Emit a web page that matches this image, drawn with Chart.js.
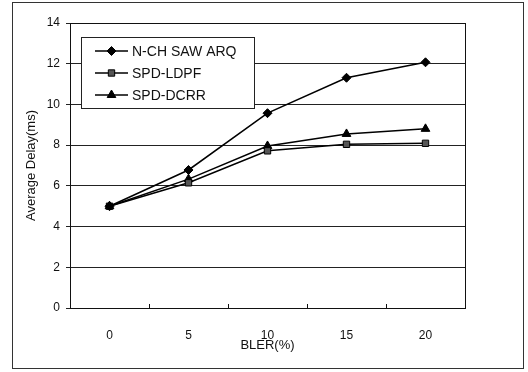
<!DOCTYPE html>
<html>
<head>
<meta charset="utf-8">
<script src="https://cdn.jsdelivr.net/npm/chart.js@4.4.1/dist/chart.umd.min.js"></script>
<style>
  html, body { margin: 0; padding: 0; background: #fff; }
  #wrap { width: 528px; height: 372px; position: relative; }
</style>
</head>
<body>
<div id="wrap"><canvas id="delayChart" width="528" height="372"></canvas></div>
<script>
// Data
const bler = ["0", "5", "10", "15", "20"];
const nchSawArq = [5.0, 6.78, 9.57, 11.31, 12.07];
const spdLdpf = [5.0, 6.15, 7.72, 8.04, 8.09];
const spdDcrr = [5.0, 6.33, 7.96, 8.55, 8.8];
const yTicks = [0, 2, 4, 6, 8, 10, 12, 14];

const FONT = "'Liberation Sans', Arial, Helvetica, sans-serif";

// Outer frame of the figure, plot frame and the small x ticks
const framePlugin = {
  id: "frame",
  beforeDraw(chart) {
    const ctx = chart.ctx;
    ctx.save();
    ctx.fillStyle = "#fff";
    ctx.fillRect(0, 0, chart.width, chart.height);
    ctx.strokeStyle = "#333";
    ctx.lineWidth = 1;
    ctx.strokeRect(12.5, 2.5, 511, 366);
    ctx.restore();
  },
  afterDatasetsDraw(chart) {
    const a = chart.chartArea;
    const ctx = chart.ctx;
    const xs = chart.scales.x;
    ctx.save();
    ctx.strokeStyle = "#111";
    ctx.lineWidth = 1;
    ctx.strokeRect(Math.round(a.left) + 0.5, Math.round(a.top) + 0.5,
      Math.round(a.right - a.left), Math.round(a.bottom - a.top));
    // tick marks between categories, pointing into the plot
    ctx.beginPath();
    for (let i = 1; i < bler.length; i++) {
      const x = Math.round((xs.getPixelForValue(i - 1) + xs.getPixelForValue(i)) / 2) + 0.5;
      ctx.moveTo(x, a.bottom);
      ctx.lineTo(x, a.bottom - 4);
    }
    ctx.stroke();
    ctx.restore();
  },
};

// Legend box drawn inside the plot area
const boxLegendPlugin = {
  id: "boxLegend",
  afterDraw(chart) {
    const ctx = chart.ctx;
    const x0 = 81, y0 = 37, w = 173, h = 71;
    ctx.save();
    ctx.fillStyle = "#fff";
    ctx.fillRect(x0, y0, w, h);
    ctx.strokeStyle = "#222";
    ctx.lineWidth = 1;
    ctx.strokeRect(x0 + 0.5, y0 + 0.5, w, h);
    ctx.font = "14px " + FONT;
    ctx.textBaseline = "middle";
    chart.data.datasets.forEach((ds, i) => {
      const y = 51 + i * 22;
      ctx.strokeStyle = "#000";
      ctx.lineWidth = 1.5;
      ctx.beginPath();
      ctx.moveTo(95, y);
      ctx.lineTo(128, y);
      ctx.stroke();
      ctx.fillStyle = ds.pointBackgroundColor;
      ctx.lineWidth = 1;
      Chart.helpers.drawPoint(ctx, {
        pointStyle: ds.pointStyle,
        radius: ds.pointRadius,
        rotation: 0,
        borderWidth: 1,
      }, 111.5, y);
      ctx.fillStyle = "#111";
      ctx.fillText(ds.label, 132, y + 1);
    });
    ctx.restore();
  },
};

function series(label, data, style, radius, fill) {
  return {
    label: label,
    data: data,
    borderColor: "#000",
    borderWidth: 1.5,
    backgroundColor: fill,
    pointStyle: style,
    pointRadius: radius,
    pointBorderColor: "#000",
    pointBackgroundColor: fill,
    pointBorderWidth: 1,
    tension: 0,
  };
}

new Chart(document.getElementById("delayChart"), {
  type: "line",
  data: {
    labels: bler,
    datasets: [
      series("N-CH SAW ARQ", nchSawArq, "rectRot", 4.5, "#000"),
      series("SPD-LDPF", spdLdpf, "rect", 4.5, "#555"),
      series("SPD-DCRR", spdDcrr, "triangle", 5, "#000"),
    ],
  },
  options: {
    responsive: false,
    animation: false,
    events: [],
    layout: { padding: { left: 20, right: 63, top: 23, bottom: 0 } },
    plugins: { legend: { display: false }, tooltip: { enabled: false } },
    scales: {
      x: {
        type: "category",
        offset: true,
        afterFit: (scale) => { scale.height = 64; },
        grid: { display: false },
        border: { display: true, color: "#111", width: 1 },
        ticks: { color: "#111", font: { family: FONT, size: 12 }, padding: 12 },
        title: {
          display: true,
          text: "BLER(%)",
          color: "#111",
          font: { family: FONT, size: 13 },
          padding: { top: 0, bottom: 19 },
        },
      },
      y: {
        min: 0,
        max: 14,
        afterFit: (scale) => { scale.width = 50; },
        afterBuildTicks: (scale) => { scale.ticks = yTicks.map((v) => ({ value: v })); },
        grid: { color: "#222", lineWidth: 1, drawTicks: true, tickLength: 4 },
        border: { display: true, color: "#111", width: 1 },
        ticks: { color: "#111", font: { family: FONT, size: 12 }, padding: 6 },
        title: {
          display: true,
          text: "Average Delay(ms)",
          color: "#111",
          font: { family: FONT, size: 13 },
          padding: { top: 4, bottom: 0 },
        },
      },
    },
  },
  plugins: [framePlugin, boxLegendPlugin],
});
</script>
</body>
</html>
